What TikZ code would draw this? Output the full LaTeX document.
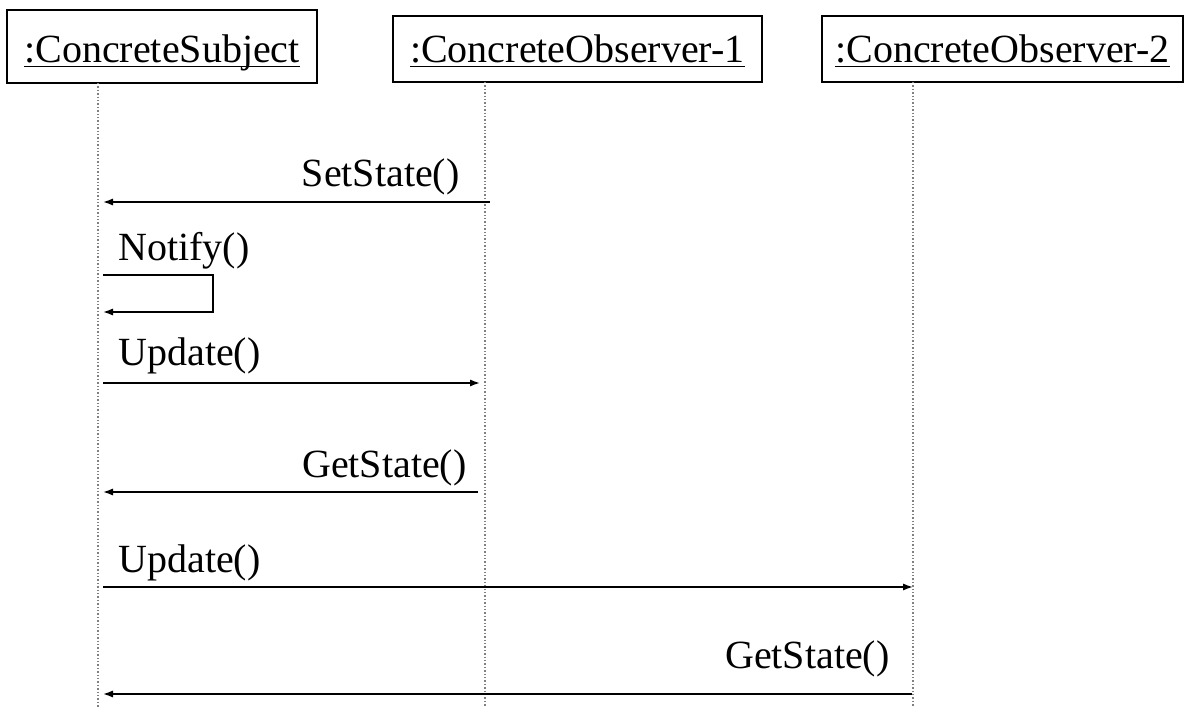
\documentclass[tikz,border=0pt]{standalone}
\usepackage{fontspec}
\setmainfont{Liberation Serif}
\usetikzlibrary{arrows.meta,calc}
\newcommand\myul[1]{\setbox0\hbox{#1}\rlap{\rule[-2.6pt]{\wd0}{0.7pt}}\box0}
\begin{document}
\begin{tikzpicture}[x=0.5pt,y=-0.5pt,
  every node/.style={font=\fontsize{20}{24}\selectfont, inner sep=0pt},
  obj/.style={draw, line width=0.9pt, minimum height=36.5pt, text depth=3pt},
  life/.style={draw=gray, densely dotted, line width=0.7pt},
  msg/.style={line width=0.8pt, -{Latex[length=5pt,width=3.6pt]}},
  lbl/.style={}]
\useasboundingbox (0,0) rectangle (1185,707);
\fill[white] (0,0) rectangle (1185,707);
% objects
\node[obj, minimum width=155pt, minimum height=36.5pt, text height=18.5pt] (s) at (162,46.5) {\myul{:ConcreteSubject}};
\node[obj, minimum width=184.5pt, minimum height=33pt, text height=16pt] (o1) at (577.5,49) {\myul{:ConcreteObserver-1}};
\node[obj, minimum width=180.5pt, minimum height=33pt, text height=16pt] (o2) at (1002.5,49) {\myul{:ConcreteObserver-2}};
% lifelines
\coordinate (sT) at (98,83);
\coordinate (sB) at (98,707);
\coordinate (aT) at (485,82);
\coordinate (aB) at (485,707);
\coordinate (bT) at (913,82);
\coordinate (bB) at (913,707);
\draw[life] (sT) -- (sB);
\draw[life] (aT) -- (aB);
\draw[life] (bT) -- (bB);
% message end points
\coordinate (m1a) at (490,202); \coordinate (m1b) at (103,202);
\coordinate (m2a) at (103,275); \coordinate (m2c) at (213,275); \coordinate (m2d) at (213,312); \coordinate (m2b) at (103,312);
\coordinate (m3a) at (103,383); \coordinate (m3b) at (480,383);
\coordinate (m4a) at (478,492); \coordinate (m4b) at (103,492);
\coordinate (m5a) at (103,587); \coordinate (m5b) at (913,587);
\coordinate (m6a) at (912,694); \coordinate (m6b) at (103,694);
% messages
\draw[msg] (m1a) -- (m1b);
\draw[msg] (m2a) -- (m2c) -- (m2d) -- (m2b);
\draw[msg] (m3a) -- (m3b);
\draw[msg] (m4a) -- (m4b);
\draw[msg] (m5a) -- (m5b);
\draw[msg] (m6a) -- (m6b);
% labels
\node[lbl, anchor=base east] (l1) at (460,186) {SetState()};
\node[lbl, anchor=base west] (l2) at (118,260) {Notify()};
\node[lbl, anchor=base west] (l3) at (118,365) {Update()};
\node[lbl, anchor=base east] (l4) at (467,477) {GetState()};
\node[lbl, anchor=base west] (l5) at (118,572) {Update()};
\node[lbl, anchor=base east] (l6) at (890,668) {GetState()};
\end{tikzpicture}
\end{document}
